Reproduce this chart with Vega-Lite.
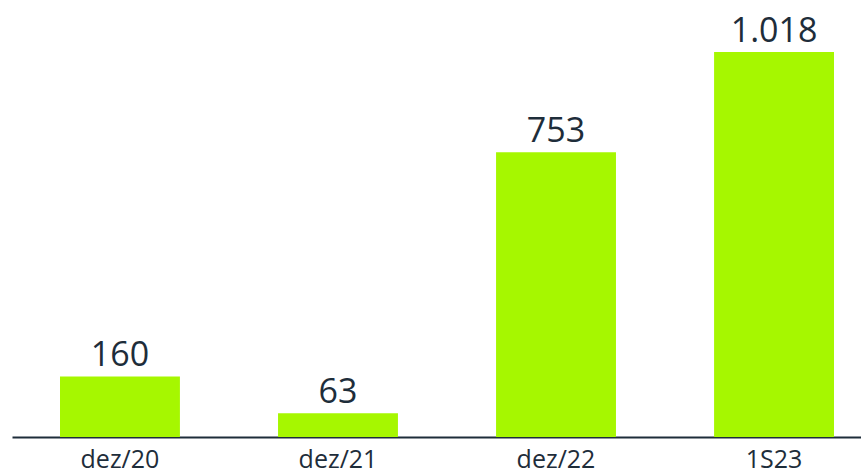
{
  "$schema": "https://vega.github.io/schema/vega-lite/v6.json",
  "width": 849,
  "height": 437,
  "autosize": {"type": "none"},
  "padding": {"left": 12, "top": 0, "right": 0, "bottom": 37},
  "background": "#ffffff",
  "config": {
    "view": {"stroke": null},
    "font": "Open Sans",
    "locale": {"number": {"decimal": ",", "thousands": ".", "grouping": [3], "currency": ["R$", ""]}}
  },
  "data": {
    "values": [
      {"periodo": "dez/20", "valor": 160},
      {"periodo": "dez/21", "valor": 63},
      {"periodo": "dez/22", "valor": 753},
      {"periodo": "1S23", "valor": 1018}
    ]
  },
  "encoding": {
    "x": {
      "field": "periodo",
      "type": "nominal",
      "sort": null,
      "scale": {"paddingInner": 0.45, "paddingOuter": 0.172, "align": 0.64},
      "axis": {
        "title": null,
        "labelAngle": 0,
        "labelFontSize": 25,
        "labelColor": "#1e2d3a",
        "labelPadding": 10,
        "ticks": false,
        "domainColor": "#1e2d3a",
        "domainWidth": 2,
        "grid": false
      }
    },
    "y": {
      "field": "valor",
      "type": "quantitative",
      "scale": {"domain": [0, 1155.5], "nice": false, "zero": true},
      "axis": null
    }
  },
  "layer": [
    {"mark": {"type": "bar", "color": "#a6f700"}},
    {
      "mark": {"type": "text", "baseline": "alphabetic", "dy": -10, "fontSize": 34, "color": "#1e2d3a"},
      "encoding": {"text": {"field": "valor", "type": "quantitative", "format": ",.0f"}}
    }
  ]
}
